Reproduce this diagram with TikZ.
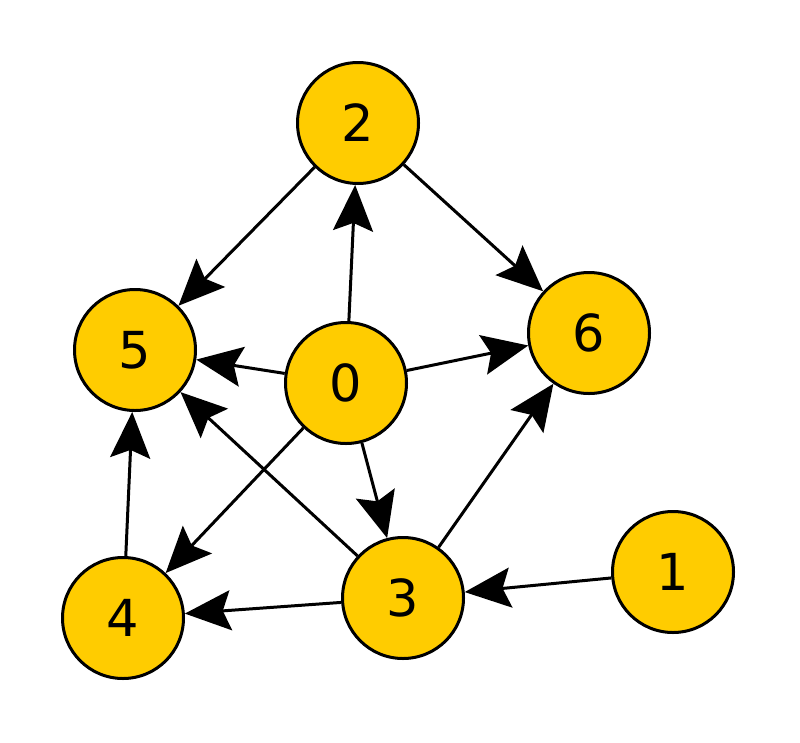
\documentclass[tikz,border=0pt]{standalone}
\usepackage{fontspec}
\setmainfont{DejaVu Sans}
\usetikzlibrary{arrows.meta}
\definecolor{nodeyellow}{HTML}{FFCC00}
\begin{document}
\begin{tikzpicture}[x=1pt,y=-1pt,
  vertex/.style={circle,draw=black,line width=3pt,fill=nodeyellow,minimum size=121pt,inner sep=0pt,font=\fontsize{51}{51}\selectfont},
  edge/.style={line width=3pt,-{Stealth[length=46pt,width=40pt,inset=8pt]},shorten >=0pt}]
\useasboundingbox (0,0) rectangle (800,742);
\node[vertex] (n2) at (358,123) {2};
\node[vertex] (n5) at (135,350) {5};
\node[vertex] (n0) at (346,383) {0};
\node[vertex] (n6) at (589,333) {6};
\node[vertex] (n1) at (673,572) {1};
\node[vertex] (n3) at (403,598) {3};
\node[vertex] (n4) at (123,618) {4};
\draw[edge] (n2) -- (n5);
\draw[edge] (n2) -- (n6);
\draw[edge] (n0) -- (n2);
\draw[edge] (n0) -- (n5);
\draw[edge] (n0) -- (n6);
\draw[edge] (n0) -- (n3);
\draw[edge] (n0) -- (n4);
\draw[edge] (n3) -- (n5);
\draw[edge] (n3) -- (n6);
\draw[edge] (n3) -- (n4);
\draw[edge] (n1) -- (n3);
\draw[edge] (n4) -- (n5);
\end{tikzpicture}
\end{document}
